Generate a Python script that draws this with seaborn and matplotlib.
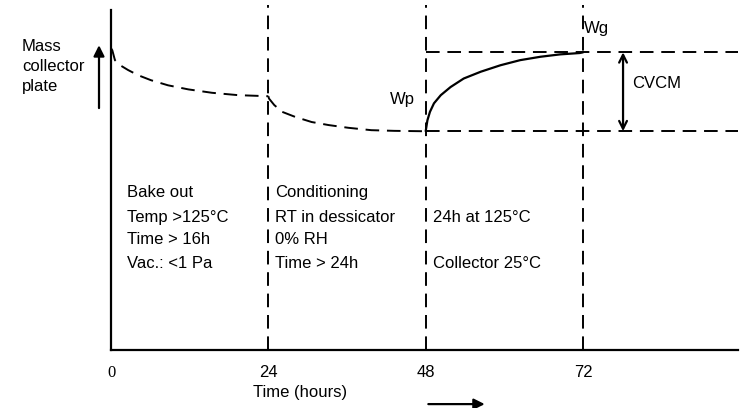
import numpy as np
import pandas as pd
import matplotlib
matplotlib.use('Agg')
import matplotlib.pyplot as plt
import seaborn as sns

# Schematic curves (hours, relative mass 0-100)
bake_hours = [0, 0.2, 0.6, 1.4, 2.6, 4.1, 6.1, 8.7, 11.8, 15.4, 19.4, 23.8, 24]
bake_mass = [88.8, 88.2, 85.3, 83.8, 82.4, 80.9, 79.4, 77.9, 76.7, 75.7, 75.0, 74.7, 74.7]
cond_hours = [24, 24.1, 24.9, 26.1, 28.1, 30.6, 33.2, 36.2, 39.7, 43.2, 47.2, 48]
cond_mass = [74.7, 74.0, 72.1, 70.1, 68.6, 67.1, 66.2, 65.4, 64.7, 64.5, 64.4, 64.4]
test_hours = [48, 48.26, 48.65, 49.26, 50.3, 51.8, 53.8, 56.4, 59.4, 62.4, 65.5, 68.5, 71.5, 72]
test_mass = [64.4, 67.6, 70.1, 72.6, 75.0, 77.4, 79.9, 81.9, 83.8, 85.3, 86.3, 87.0, 87.4, 87.6]

wp_level = 64.4
wg_level = 87.6
phase_edges = [24, 48, 72]
tick_pos = [0, 24, 48, 72]
tick_labels = ['0', '24', '48', '72']

bake_text = ['Bake out', 'Temp >125°C', 'Time > 16h', 'Vac.: <1 Pa']
cond_text = ['Conditioning', 'RT in dessicator', '0% RH', 'Time > 24h']
test_text = ['', '24h at 125°C', '', 'Collector 25°C']
text_rows = [46.5, 39.1, 32.4, 25.6]

sns.set_theme(style='white')
plt.rcParams['font.family'] = ['Liberation Sans', 'DejaVu Sans']
plt.rcParams['text.color'] = 'black'
plt.rcParams['xtick.color'] = 'black'

fig = plt.figure(figsize=(7.4, 4.08), dpi=100)
ax = fig.add_axes([0.15, 0.142, 0.847, 0.833])
dash = (0, (7, 4))

sns.lineplot(x=bake_hours, y=bake_mass, ax=ax, color='black', lw=1.4, sort=False)
sns.lineplot(x=cond_hours, y=cond_mass, ax=ax, color='black', lw=1.4, sort=False)
sns.lineplot(x=test_hours, y=test_mass, ax=ax, color='black', lw=1.6, sort=False)
for line in ax.lines[:2]:
    line.set_linestyle(dash)

x_end = 95.6
ax.plot([48, x_end], [wp_level, wp_level], color='black', lw=1.4, linestyle=dash, clip_on=False)
ax.plot([48, x_end], [wg_level, wg_level], color='black', lw=1.4, linestyle=dash, clip_on=False)
for x in phase_edges:
    ax.plot([x, x], [0, 101.5], color='black', lw=1.4, linestyle=dash, clip_on=False)

ax.set_xlim(0, x_end)
ax.set_ylim(0, 100)
ax.set_yticks([])
ax.set_xticks(tick_pos)
ax.set_xticklabels(tick_labels, fontsize=12)
ax.tick_params(axis='x', length=0, pad=11)
# the origin label is set in a serif face in the original
for lbl in ax.get_xticklabels():
    if lbl.get_text() == '0':
        lbl.set_fontfamily('Liberation Serif')
for s in ['top', 'right']:
    ax.spines[s].set_visible(False)
for s in ['left', 'bottom']:
    ax.spines[s].set_color('black')
    ax.spines[s].set_linewidth(1.6)

for rows, x0 in [(bake_text, 2.44), (cond_text, 25.0), (test_text, 49.1)]:
    for t, y in zip(rows, text_rows):
        if t:
            ax.text(x0, y, t, fontsize=12, va='center', ha='left')

ax.text(44.5, 73.8, 'Wp', fontsize=12, ha='center', va='center')
ax.text(74.0, 94.7, 'Wg', fontsize=12, ha='center', va='center')
ax.text(79.5, 78.5, 'CVCM', fontsize=12, ha='left', va='center')
ax.annotate('', xy=(78.1, wp_level), xytext=(78.1, wg_level),
            arrowprops=dict(arrowstyle='<->', color='black', lw=1.6, mutation_scale=14,
                            shrinkA=0, shrinkB=0))

ax.annotate('', xy=(-1.83, 89.7), xytext=(-1.83, 71.2), annotation_clip=False,
            arrowprops=dict(arrowstyle='-|>', color='black', lw=1.6, mutation_scale=16,
                            shrinkA=0, shrinkB=0))
ax.annotate('', xy=(57.0, -15.9), xytext=(48.4, -15.9), annotation_clip=False,
            arrowprops=dict(arrowstyle='-|>', color='black', lw=1.6, mutation_scale=16,
                            shrinkA=0, shrinkB=0))

ax.text(28.8, -12.4, 'Time (hours)', fontsize=12, ha='center', va='center', clip_on=False)
fig.text(22 / 740, 1 - 39 / 408, 'Mass\ncollector\nplate', fontsize=12, ha='left', va='top',
         linespacing=1.4)

fig.savefig('out.png', dpi=100)
